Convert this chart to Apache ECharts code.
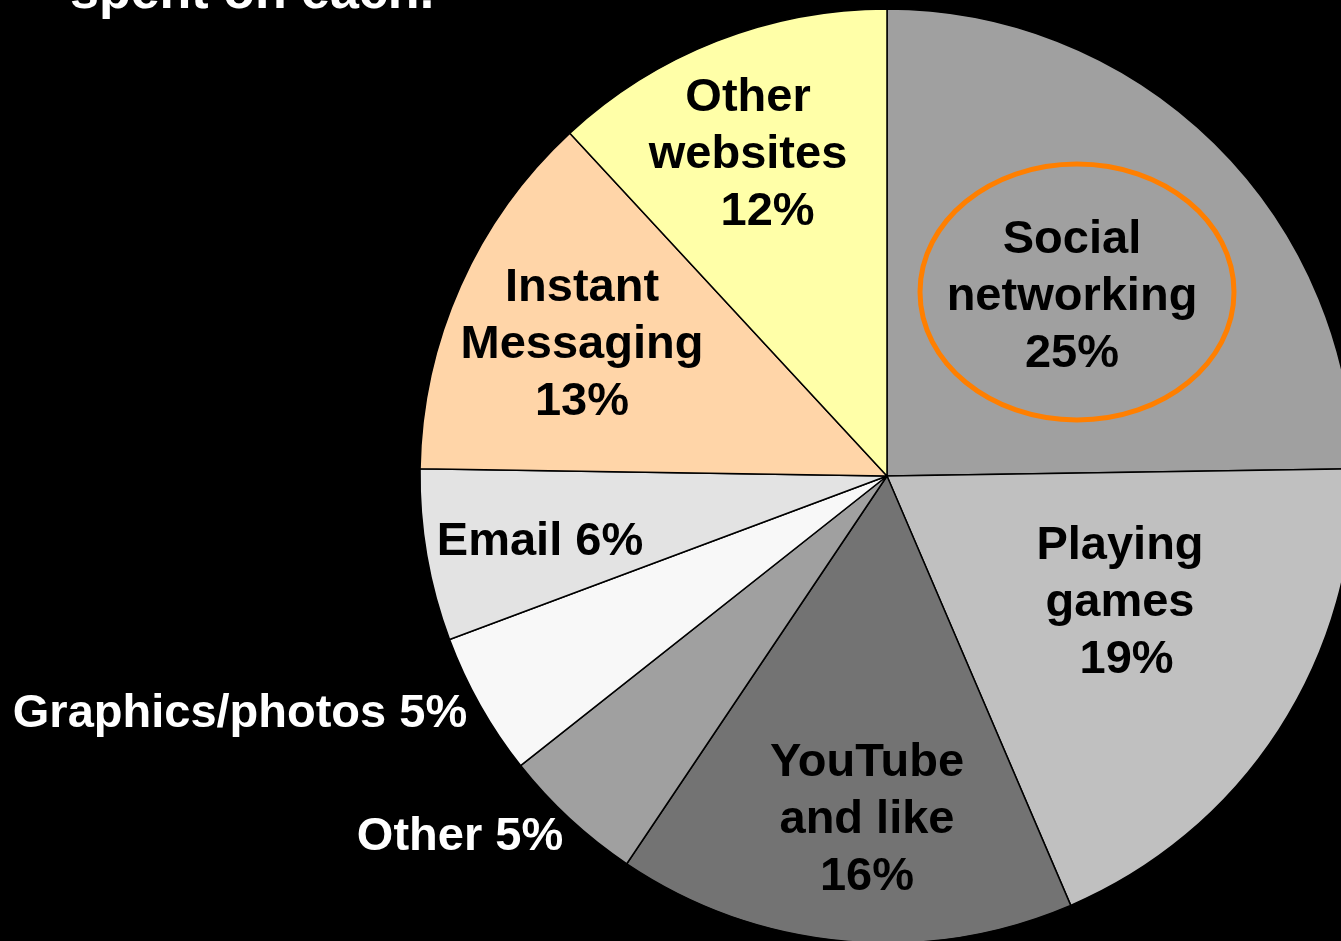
<!DOCTYPE html>
<html>
<head>
<meta charset="utf-8">
<script src="https://cdn.jsdelivr.net/npm/echarts@6/dist/echarts.min.js"></script>
<style>
  html, body { margin: 0; padding: 0; background: #000; }
  #chart { width: 1341px; height: 941px; }
</style>
</head>
<body>
<div id="chart"></div>
<script>
// Share of time spent online, by activity (percent)
const categories = ['Social networking', 'Playing games', 'YouTube and like', 'Other',
                    'Graphics/photos', 'Email', 'Instant Messaging', 'Other websites'];
const shares = [25, 19, 16, 5, 5, 6, 13, 12];
const sliceColors = ['#a0a0a0', '#c0c0c0', '#737373', '#a0a0a0',
                     '#f8f8f8', '#e3e3e3', '#ffd5a8', '#ffffa8'];

// How each label's name is broken over lines before the percentage
const labelPrefix = ['Social\nnetworking\n', 'Playing\ngames\n ', 'YouTube\nand like\n', 'Other ',
                     'Graphics/photos ', 'Email ', 'Instant\nMessaging\n', 'Other\nwebsites\n   '];
// Label anchor points (centre of each text block)
const labelSpots = [[1072, 297], [1120, 603], [867, 820], [460, 837],
                    [240, 714], [540, 542], [582, 345], [748, 155]];
const outsideLabel = [false, false, false, true, true, false, false, false];

const chart = echarts.init(document.getElementById('chart'), null, { renderer: 'canvas' });

chart.setOption({
  backgroundColor: '#000',
  animation: false,
  graphic: [
    {
      type: 'text',
      left: 70,
      top: -32,
      style: {
        text: 'spent on each.',
        fill: '#fff',
        font: 'bold 52px "Liberation Sans", Arial, sans-serif'
      },
      z: 10
    },
    {
      type: 'ellipse',
      shape: { cx: 1077, cy: 292, rx: 157, ry: 128 },
      style: { fill: 'none', stroke: '#ff7f00', lineWidth: 5 },
      z: 20
    }
  ],
  series: [{
    type: 'pie',
    center: [887, 476],
    radius: 467,
    startAngle: 90,
    clockwise: true,
    avoidLabelOverlap: false,
    emphasis: { disabled: true },
    itemStyle: { borderColor: '#000', borderWidth: 1.5 },
    labelLine: { show: false },
    label: {
      show: true,
      position: 'inside',
      fontFamily: '"Liberation Sans", Arial, sans-serif',
      fontWeight: 'bold',
      fontSize: 47,
      lineHeight: 57,
      align: 'center',
      color: '#000',
      formatter: p => labelPrefix[p.dataIndex] + p.value + '%'
    },
    labelLayout: p => ({
      x: labelSpots[p.dataIndex][0],
      y: labelSpots[p.dataIndex][1],
      align: 'center',
      verticalAlign: 'middle',
      hideOverlap: false
    }),
    data: categories.map((name, i) => ({
      name,
      value: shares[i],
      itemStyle: { color: sliceColors[i] },
      label: { color: outsideLabel[i] ? '#fff' : '#000' }
    }))
  }]
});
</script>
</body>
</html>
